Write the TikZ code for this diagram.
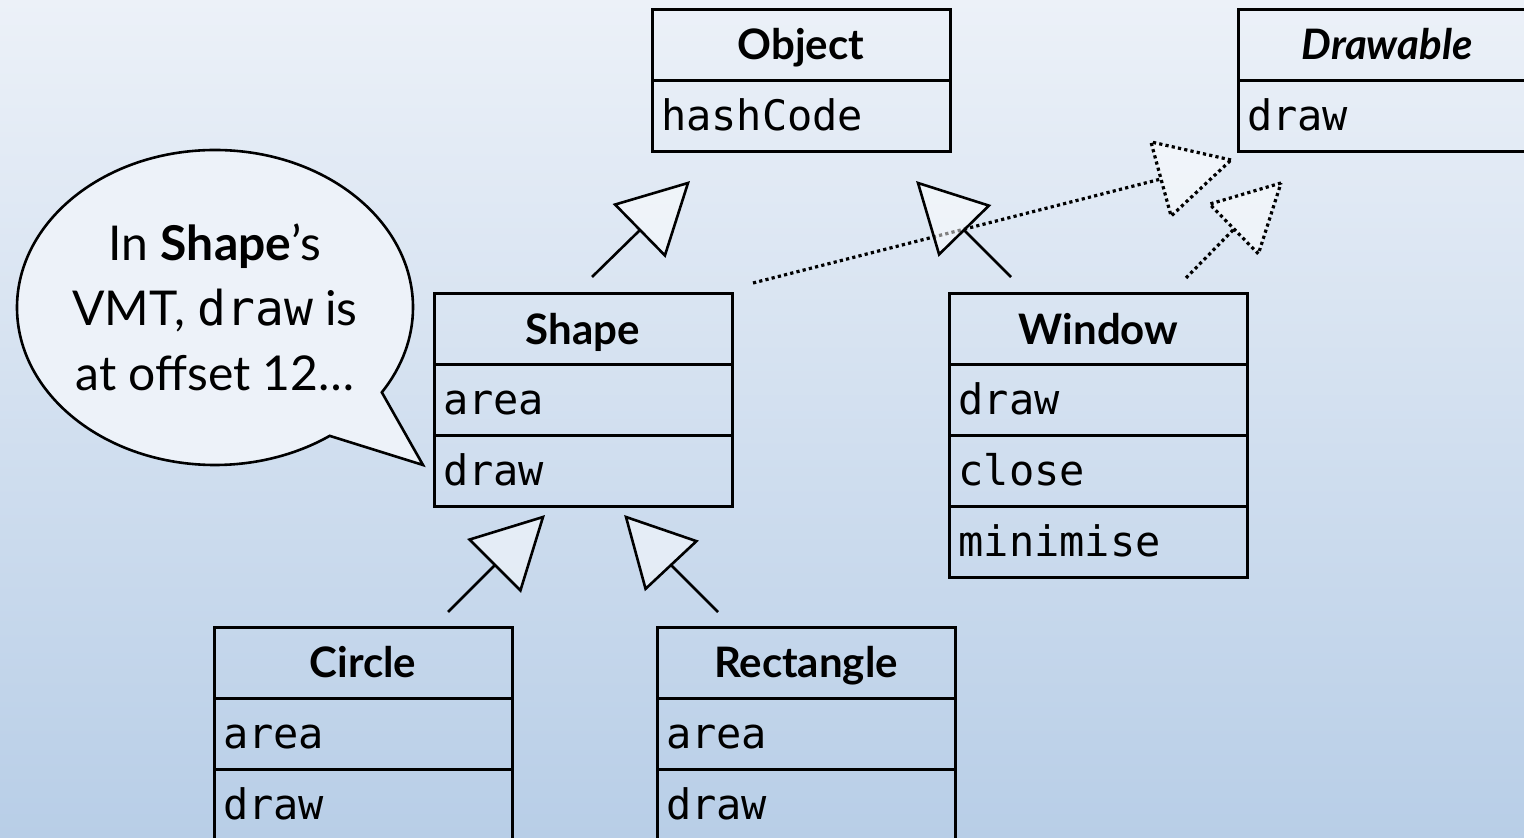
\documentclass[tikz,border=0pt]{standalone}
\usepackage{fontspec}
\setmainfont{Lato}
\setmonofont{DejaVu Sans Mono}
\usetikzlibrary{positioning,calc,shapes.callouts}
\definecolor{bgtop}{HTML}{ECF1F8}
\definecolor{bgbot}{HTML}{B8CEE7}
\definecolor{notefill}{HTML}{EDF2F9}
\newcommand{\isa}[4][]{%
	\draw[#1] (#2) -- (#3);
	\draw[#1, fill=white, fill opacity=.5] (#4) -- ($(#3)!.53!90:(#4)$) -- ($(#3)!.53!-90:(#4)$) -- cycle;}
\tikzset{
	cls/.style={draw, line width=1.5pt, minimum width=149pt, minimum height=35.5pt, inner sep=0pt, outer sep=0pt, text height=15pt, text depth=0pt, font=\fontsize{21}{25}\selectfont\bfseries},
	meth/.style={draw, line width=1.5pt, minimum width=149pt, minimum height=35.5pt, text width=140pt, align=left, inner xsep=4.5pt, inner ysep=0pt, outer sep=0pt, text height=14.5pt, text depth=0pt, font=\fontsize{21}{25}\selectfont\ttfamily},
	gen/.style={line width=1.3pt},
	real/.style={line width=1.6pt, dash pattern=on 1.6pt off 1.6pt},
}
\begin{document}
\begin{tikzpicture}[x=0.5pt, y=-0.5pt]
		\shade[top color=bgtop, bottom color=bgbot] (0,0) rectangle (1524,838);
		\useasboundingbox (0,0) rectangle (1524,838);
		%
		\node[ellipse callout, draw, line width=1.3pt, fill=notefill, minimum width=198pt, minimum height=157.5pt, callout absolute pointer={(423,465)}, callout pointer arc=22] (note) at (215,307.5) {};
		\node[align=center, font=\fontsize{24}{32.5}\selectfont] (notetext) at (note.center) {In \textbf{Shape}'s\\VMT, \texttt{draw} is\\at offset 12\ldots};
		%
		\node[cls] (object) at (801,45) {Object};
		\node[meth, below=0pt of object] (objhash) {hashCode};
		\node[cls] (drawable) at (1387,45) {\itshape Drawable};
		\node[meth, below=0pt of drawable] (drawdraw) {draw};
		\node[cls] (shape) at (583,329.5) {Shape};
		\node[meth, below=0pt of shape] (shapearea) {area};
		\node[meth, below=0pt of shapearea] (shapedraw) {draw};
		\node[cls] (window) at (1098.5,329.5) {Window};
		\node[meth, below=0pt of window] (winddraw) {draw};
		\node[meth, below=0pt of winddraw] (windclose) {close};
		\node[meth, below=0pt of windclose] (windmin) {minimise};
		\node[cls] (circ) at (363,662.5) {Circle};
		\node[meth, below=0pt of circ] (circarea) {area};
		\node[meth, below=0pt of circarea] (circdraw) {draw};
		\node[cls] (rect) at (806,662.5) {Rectangle};
		\node[meth, below=0pt of rect] (rectarea) {area};
		\node[meth, below=0pt of rectarea] (rectdraw) {draw};
		%
		\coordinate (sd-from) at (753,283);
		\coordinate (sd-mid) at (1161,179);
		\coordinate (sd-to) at (1231,160);
		\coordinate (wd-from) at (1186,278);
		\coordinate (wd-mid) at (1234,229);
		\coordinate (wd-to) at (1281,183);
		\coordinate (so-from) at (592,277);
		\coordinate (so-mid) at (640,230);
		\coordinate (so-to) at (688,183);
		\coordinate (wo-from) at (1011,277);
		\coordinate (wo-mid) at (964,230);
		\coordinate (wo-to) at (918,183);
		\coordinate (cs-from) at (448,612);
		\coordinate (cs-mid) at (495,565);
		\coordinate (cs-to) at (543,517);
		\coordinate (rs-from) at (718,612);
		\coordinate (rs-mid) at (671,565);
		\coordinate (rs-to) at (626,517);
		%
		\isa[real]{sd-from}{sd-mid}{sd-to}
		\isa[real]{wd-from}{wd-mid}{wd-to}
		\isa[gen]{so-from}{so-mid}{so-to}
		\isa[gen]{wo-from}{wo-mid}{wo-to}
		\isa[gen]{cs-from}{cs-mid}{cs-to}
		\isa[gen]{rs-from}{rs-mid}{rs-to}
	\end{tikzpicture}
\end{document}
